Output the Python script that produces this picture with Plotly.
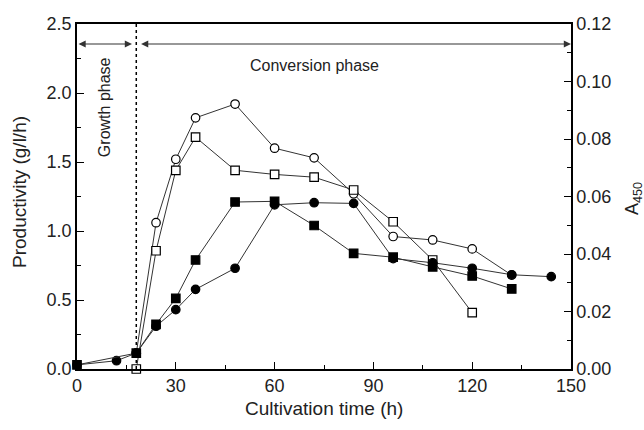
import plotly.graph_objects as go

# ---- data ----
t_open_circle = [18, 24, 30, 36, 48, 60, 72, 84, 96, 108, 120, 132]
y_open_circle = [0.115, 1.06, 1.52, 1.82, 1.92, 1.60, 1.53, 1.27, 0.96, 0.935, 0.87, 0.68]

t_open_square = [18, 24, 30, 36, 48, 60, 72, 84, 96, 108, 120]
y_open_square = [0.0, 0.857, 1.44, 1.68, 1.44, 1.41, 1.39, 1.297, 1.067, 0.79, 0.408]

t_filled_circle = [0, 12, 18, 24, 30, 36, 48, 60, 72, 84, 96, 108, 120, 132, 144]
y_filled_circle = [0.03, 0.06, 0.115, 0.31, 0.43, 0.577, 0.73, 1.19, 1.205, 1.20, 0.80, 0.77, 0.73, 0.683, 0.669]

t_filled_square = [0, 18, 24, 30, 36, 48, 60, 72, 84, 96, 108, 120, 132]
y_filled_square = [0.03, 0.115, 0.324, 0.512, 0.79, 1.21, 1.215, 1.04, 0.838, 0.81, 0.74, 0.674, 0.58]

x_ticks = [0, 30, 60, 90, 120, 150]
y_ticks = [0.0, 0.5, 1.0, 1.5, 2.0, 2.5]
y2_ticks = [0.00, 0.02, 0.04, 0.06, 0.08, 0.10, 0.12]
phase_boundary = 18
phase_arrow_y = 2.355

FONT = "Liberation Sans, Arial, sans-serif"
LINE = "#333333"
TXT = "#222222"

fig = go.Figure()

def add(tx, ty, symbol, fill, size):
    fig.add_trace(go.Scatter(
        x=tx, y=ty, mode="lines+markers",
        line=dict(color=LINE, width=1),
        marker=dict(symbol=symbol, size=size, color=fill,
                    line=dict(color="black", width=1.2)),
        cliponaxis=False, showlegend=False))

add(t_open_circle, y_open_circle, "circle", "white", 8.5)
add(t_open_square, y_open_square, "square", "white", 8.5)
add(t_filled_circle, y_filled_circle, "circle", "black", 8.5)
add(t_filled_square, y_filled_square, "square", "black", 8.5)

# invisible trace to activate the right axis
fig.add_trace(go.Scatter(x=[0], y=[0], yaxis="y2", mode="markers",
                         marker=dict(opacity=0), showlegend=False, hoverinfo="skip"))

# dotted phase boundary
fig.add_shape(type="line", x0=phase_boundary, x1=phase_boundary, y0=0, y1=2.5,
              xref="x", yref="y", line=dict(color="black", width=1.5, dash="dot"))

# phase arrows
fig.add_annotation(x=phase_boundary - 1.3, y=phase_arrow_y, ax=0, ay=phase_arrow_y,
                   xref="x", yref="y", axref="x", ayref="y", text="",
                   showarrow=True, arrowside="end+start", arrowhead=2,
                   arrowsize=1.2, arrowwidth=1.2, arrowcolor=LINE)
fig.add_annotation(x=150, y=phase_arrow_y, ax=phase_boundary + 1.0, ay=phase_arrow_y,
                   xref="x", yref="y", axref="x", ayref="y", text="",
                   showarrow=True, arrowside="end+start", arrowhead=2,
                   arrowsize=1.2, arrowwidth=1.2, arrowcolor=LINE)

fig.add_annotation(x=72, y=2.2, xref="x", yref="y", text="Conversion phase",
                   showarrow=False, font=dict(size=16, color=TXT))
fig.add_annotation(x=8.3, y=1.90, xref="x", yref="y", text="Growth phase",
                   textangle=-90, showarrow=False, font=dict(size=16, color=TXT))

# axis titles
fig.add_annotation(x=(19 - 77) / 494, y=(369 - 192) / 345, xref="paper", yref="paper",
                   xanchor="center", yanchor="middle",
                   text="Productivity (g/l/h)", textangle=-90, showarrow=False,
                   font=dict(size=19, color=TXT))
fig.add_annotation(x=0.5, y=-39 / 345, xref="paper", yref="paper",
                   xanchor="center", yanchor="middle",
                   text="Cultivation time (h)", showarrow=False,
                   font=dict(size=19, color=TXT))
fig.add_annotation(x=(633 - 77) / 494, y=(369 - 199) / 345, xref="paper", yref="paper",
                   xanchor="center", yanchor="middle",
                   text="A<sub>450</sub>", textangle=-90, showarrow=False,
                   font=dict(size=18, color=TXT))

axis_common = dict(showline=True, linecolor="black", linewidth=1.5,
                   ticks="inside", ticklen=7, tickwidth=1.2, tickcolor="black",
                   showgrid=False, zeroline=False,
                   tickfont=dict(family=FONT, size=18, color=TXT))

fig.update_layout(
    width=644, height=430,
    margin=dict(l=77, r=73, t=24, b=61),
    plot_bgcolor="white", paper_bgcolor="white",
    font=dict(family=FONT, color=TXT),
    xaxis=dict(range=[0, 150], tickvals=x_ticks, mirror=True,
               minor=dict(ticks="inside", ticklen=4, tickcolor="black", dtick=15, tick0=0),
               **axis_common),
    yaxis=dict(range=[0, 2.5], tickvals=y_ticks, tickformat=".1f",
               minor=dict(ticks="inside", ticklen=4, tickcolor="black", dtick=0.25, tick0=0),
               **axis_common),
    yaxis2=dict(range=[0, 0.12], tickvals=y2_ticks, tickformat=".2f",
                overlaying="y", side="right",
                minor=dict(ticks="inside", ticklen=4, tickcolor="black", dtick=0.01, tick0=0),
                **axis_common),
)

fig.write_html("out.html")
